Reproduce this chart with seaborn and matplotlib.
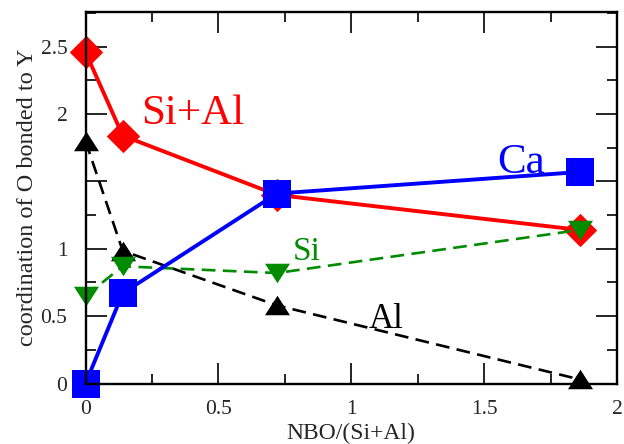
import numpy as np
import pandas as pd
import matplotlib
matplotlib.use("Agg")
import matplotlib.pyplot as plt
from matplotlib.ticker import MultipleLocator
import seaborn as sns

# ---- data ----
nbo = [0.0, 0.14, 0.72, 1.86]
si_al = [2.46, 1.84, 1.40, 1.14]
al = [1.80, 0.985, 0.58, 0.03]
si = [0.65, 0.87, 0.82, 1.14]
ca = [0.0, 0.67, 1.41, 1.57]

xticks = [0, 0.5, 1, 1.5, 2]
xtick_labels = ["0", "0.5", "1", "1.5", "2"]
yticks = [0, 0.5, 1, 1.5, 2, 2.5]
ytick_labels = ["0", "0.5", "1", "", "2", "2.5"]

series_labels = ["Si+Al", "Al", "Si", "Ca"]

sns.set_style("ticks")
plt.rcParams["font.family"] = ["Liberation Serif", "DejaVu Serif"]

fig = plt.figure(figsize=(6.24, 4.44), dpi=100)
ax = fig.add_axes([85.5 / 624, 1 - 383.5 / 444, (617 - 85.5) / 624, (383.5 - 11.7) / 444])

diamond = [(0, 1), (1, 0), (0, -1), (-1, 0), (0, 1)]
tri_down = [(-1, 0.78), (1, 0.78), (0, -0.78), (-1, 0.78)]
tri_up = [(-1, -0.78), (1, -0.78), (0, 0.78), (-1, -0.78)]

df = pd.DataFrame({"x": nbo * 4,
                   "y": si_al + al + si + ca,
                   "series": sum([[s] * len(nbo) for s in series_labels], [])})

styles = {
    "Si+Al": dict(color="#ff0000", lw=2.8, ls="-", marker=diamond, ms=24),
    "Al": dict(color="#000000", lw=1.9, ls=(0, (5.2, 2.8)), marker=tri_up, ms=18),
    "Si": dict(color="#008b00", lw=1.9, ls=(0, (5.2, 2.8)), marker=tri_down, ms=18),
    "Ca": dict(color="#0000ff", lw=2.8, ls="-", marker="s", ms=20),
}

for s in series_labels:
    st = styles[s]
    sns.lineplot(data=df[df["series"] == s], x="x", y="y", ax=ax,
                 color=st["color"], linewidth=st["lw"], linestyle=st["ls"],
                 marker=st["marker"], markersize=st["ms"],
                 markeredgecolor=st["color"], markerfacecolor=st["color"],
                 markeredgewidth=0, errorbar=None, clip_on=False, legend=False)

ax.set_xlim(0, 2)
ax.set_ylim(0, 2.76)
ax.set_xticks(xticks, labels=xtick_labels)
ax.set_yticks(yticks, labels=ytick_labels)
ax.xaxis.set_minor_locator(MultipleLocator(0.25))
ax.yaxis.set_minor_locator(MultipleLocator(0.25))
ax.tick_params(which="both", direction="in", top=True, right=True, color="black", width=1.2)
ax.tick_params(which="major", length=15)
ax.tick_params(which="minor", length=7.5)
ax.tick_params(axis="x", which="major", pad=12, labelsize=15.5)
ax.tick_params(axis="y", which="major", pad=13, labelsize=15.5)
for sp in ax.spines.values():
    sp.set_linewidth(1.7)
    sp.set_color("black")

ax.set_xlabel("NBO/(Si+Al)", fontsize=17, labelpad=3)
ax.set_ylabel("coordination of O bonded to Y", fontsize=17.5, labelpad=2)

ax.text(0.21, 1.926, "Si+Al", color="#ff0000", fontsize=31, ha="left", va="baseline")
ax.text(1.55, 1.565, "Ca", color="#0000ff", fontsize=31, ha="left", va="baseline")
ax.text(0.78, 0.917, "Si", color="#008b00", fontsize=24, ha="left", va="baseline")
ax.text(1.065, 0.41, "Al", color="#000000", fontsize=25, ha="left", va="baseline")

fig.savefig("out.png", dpi=100)
